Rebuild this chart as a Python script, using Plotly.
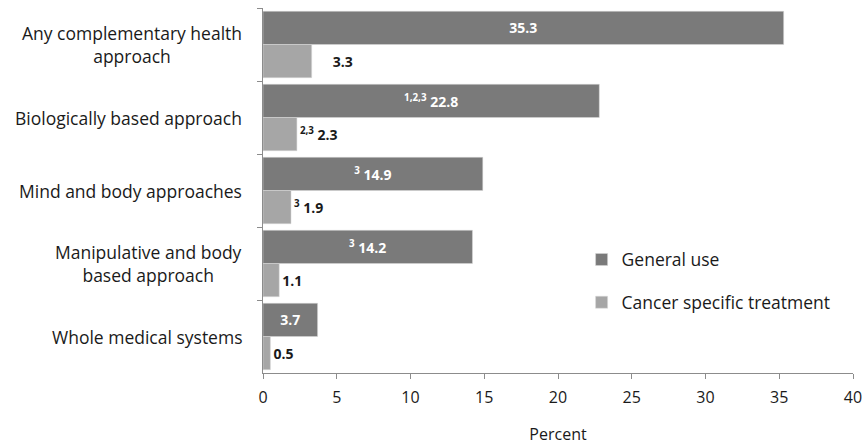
import plotly.graph_objects as go

categories = [
    "Any complementary health<br>approach",
    "Biologically based approach",
    "Mind and body approaches",
    "Manipulative and body<br>based approach",
    "Whole medical systems",
]
general_use = [35.3, 22.8, 14.9, 14.2, 3.7]
cancer_specific = [3.3, 2.3, 1.9, 1.1, 0.5]
general_labels = ["35.3", "<sup>1,2,3</sup> 22.8", "<sup>3</sup> 14.9", "<sup>3</sup> 14.2", "3.7"]
cancer_labels = ["\u00a0\u00a0\u00a0\u00a0\u00a03.3", "<sup>2,3</sup> 2.3", "<sup>3</sup> 1.9", "1.1", "0.5"]
x_ticks = [0, 5, 10, 15, 20, 25, 30, 35, 40]

FONT = "Open Sans"
DARK = "#7a7a7a"
LIGHT = "#a6a6a6"

fig = go.Figure()
fig.add_trace(go.Bar(
    y=categories, x=general_use, orientation="h", name="General use",
    legendgroup="g1",
    marker=dict(color=DARK, line=dict(color="#d9d9d9", width=0.5)),
    text=general_labels, textposition="inside", insidetextanchor="middle",
    textfont=dict(color="white", size=14, family=FONT, weight="bold"),
    constraintext="none",
))
fig.add_trace(go.Bar(
    y=categories, x=cancer_specific, orientation="h", name="Cancer specific treatment",
    legendgroup="g2",
    marker=dict(color=LIGHT, line=dict(color="#d9d9d9", width=0.5)),
    text=cancer_labels, textposition="outside",
    textfont=dict(color="#1a1a1a", size=14, family=FONT, weight="bold"),
    constraintext="none", cliponaxis=False,
))

for c in categories:
    fig.add_annotation(
        x=0, xref="paper", y=c, yref="y", text=c, showarrow=False,
        xanchor="right", align="center", xshift=-19,
        font=dict(family=FONT, size=17.5, color="#1a1a1a"),
    )

fig.update_layout(
    width=866, height=445,
    margin=dict(l=263, r=13, t=8, b=72),
    paper_bgcolor="white", plot_bgcolor="white",
    barmode="group", bargap=0.09, bargroupgap=0,
    font=dict(family=FONT, size=14, color="#333333"),
    showlegend=True,
    legend=dict(x=0.54, y=0.36, xanchor="left", yanchor="top",
                font=dict(family=FONT, size=17.5, color="#1a1a1a"),
                traceorder="grouped", tracegroupgap=17,
                itemwidth=30, bgcolor="rgba(0,0,0,0)"),
    xaxis=dict(
        range=[0, 40], tickvals=x_ticks, ticktext=[str(t) for t in x_ticks],
        showgrid=False, zeroline=False, showline=True, linecolor="#8c8c8c",
        ticks="outside", ticklen=5, tickcolor="#8c8c8c", automargin=False,
        ticklabelstandoff=5,
        tickfont=dict(family=FONT, size=16, color="#1a1a1a"),
        title=dict(text="Percent", font=dict(family=FONT, size=16, color="#1a1a1a"), standoff=30),
    ),
    yaxis=dict(
        autorange="reversed", showticklabels=False, showgrid=False, automargin=False,
        showline=True, linecolor="#8c8c8c", ticks="outside", ticklen=5,
        tickcolor="#8c8c8c", tickson="boundaries",
    ),
)

fig.write_html("out.html")
